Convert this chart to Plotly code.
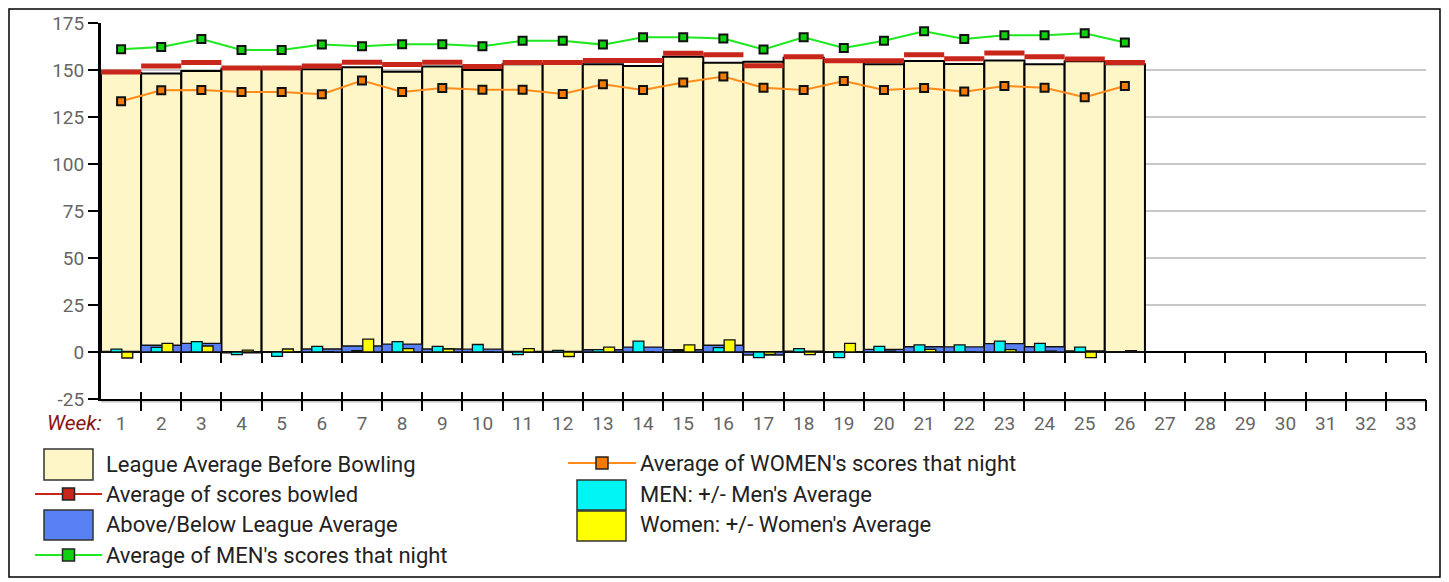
import plotly.graph_objects as go

# ---------------- data ----------------
weeks = list(range(1, 27))
all_weeks = list(range(1, 34))
week_labels = [str(w) for w in all_weeks]
y_ticks = [-25, 0, 25, 50, 75, 100, 125, 150, 175]
y_tick_labels = ["-25", "0", "25", "50", "75", "100", "125", "150", "175"]

league_avg = [148.5, 148.2, 149.5, 150.6, 150.8, 150.4, 151.4, 149.1, 151.8, 150.0,
              153.0, 153.2, 153.0, 152.1, 157.1, 153.9, 154.4, 156.5, 154.5, 153.0,
              154.8, 153.2, 155.1, 153.0, 154.6, 153.0]
avg_scores = [148.9, 152.1, 154.0, 151.0, 151.0, 152.1, 154.1, 152.9, 154.1, 151.9,
              154.0, 154.0, 155.0, 155.0, 158.9, 158.1, 152.2, 157.0, 154.9, 154.9,
              158.1, 156.0, 159.1, 157.0, 155.9, 154.0]
above_below = [0.3, 3.6, 4.6, -0.4, 0.2, 1.6, 3.2, 4.2, 1.6, 1.5,
               0.3, 0.3, 1.2, 2.6, 1.2, 3.6, -1.6, 0.5, 0.2, 1.4,
               2.8, 2.7, 4.5, 2.8, 0.6, 0.2]
men_avg = [161.0, 162.2, 166.5, 160.6, 160.6, 163.5, 162.6, 163.7, 163.7, 162.6,
           165.6, 165.6, 163.5, 167.4, 167.4, 166.7, 160.9, 167.4, 161.7, 165.6,
           170.6, 166.5, 168.5, 168.5, 169.5, 164.6]
women_avg = [133.4, 139.2, 139.4, 138.3, 138.3, 137.1, 144.4, 138.3, 140.4, 139.5,
             139.5, 137.2, 142.4, 139.4, 143.3, 146.5, 140.6, 139.4, 144.1, 139.4,
             140.4, 138.5, 141.5, 140.6, 135.5, 141.5]
men_diff = [1.5, 2.5, 5.5, -1.4, -2.3, 3.0, 0.7, 5.5, 3.0, 4.0,
            -1.4, 0.9, 1.3, 5.8, 0.8, 2.3, -3.0, 1.8, -3.0, 3.0,
            3.8, 3.8, 5.8, 4.6, 2.6, 0.0]
women_diff = [-3.2, 4.6, 3.2, 1.0, 1.6, 0.2, 6.9, 1.8, 1.6, 0.0,
              1.8, -2.4, 2.6, 0.0, 3.8, 6.5, -1.3, -1.4, 4.6, 0.5,
              1.4, 0.0, 1.3, 0.5, -3.0, 0.7]

series_names = ["League Average Before Bowling", "Average of scores bowled",
                "Above/Below League Average", "Average of MEN's scores that night",
                "Average of WOMEN's scores that night", "MEN: +/- Men's Average",
                "Women: +/- Women's Average"]

# ---------------- styles ----------------
C_LEAGUE = "#FFF6C8"
C_RED = "#C9261B"
C_BLUE = "#5A80F5"
C_GREEN = "#1EE81E"
C_GREEN_M = "#10D010"
C_ORANGE = "#FF8C1A"
C_ORANGE_M = "#F57A00"
C_CYAN = "#00F5F5"
C_YEL = "#FFFF00"
FONT = "Roboto"

PAGE_OFF = 8                      # default body margin of the html page
FW, FH = 1449 - PAGE_OFF, 582 - PAGE_OFF
# plot area in screenshot pixels
L, R, T, B = 101, 1426, 23, 399
n_cat = len(all_weeks)
cat_px = (R - L) / n_cat


def px(x):
    return (x - L) / (R - L)


def py(y):
    return (B - y) / (B - T)


fig = go.Figure()

fig.add_bar(x=weeks, y=league_avg, width=1, name=series_names[0], opacity=1,
            marker=dict(color=C_LEAGUE, line=dict(color="black", width=2)),
            showlegend=False, hoverinfo="skip")
fig.add_bar(x=weeks, y=above_below, width=1, name=series_names[2], opacity=1,
            marker=dict(color=C_BLUE, line=dict(color="#111", width=1.3)),
            showlegend=False, hoverinfo="skip")
fig.add_bar(x=weeks, y=men_diff, width=0.27, offset=-0.25, name=series_names[5], opacity=1,
            marker=dict(color=C_CYAN, line=dict(color="#111", width=1.3)),
            showlegend=False, hoverinfo="skip")
fig.add_bar(x=weeks, y=women_diff, width=0.27, offset=0.02, name=series_names[6], opacity=1,
            marker=dict(color=C_YEL, line=dict(color="#111", width=1.3)),
            showlegend=False, hoverinfo="skip")

# 'line-ew' marker length is 1.4 * size
fig.add_scatter(x=weeks, y=avg_scores, mode="markers", name=series_names[1],
                marker=dict(symbol="line-ew", size=cat_px / 1.4, color=C_RED,
                            line=dict(color=C_RED, width=5)),
                showlegend=False, hoverinfo="skip")
fig.add_scatter(x=weeks, y=women_avg, mode="lines+markers", name=series_names[4],
                line=dict(color=C_ORANGE, width=2),
                marker=dict(symbol="square", size=8, color=C_ORANGE_M,
                            line=dict(color="#111", width=2)),
                showlegend=False, hoverinfo="skip")
fig.add_scatter(x=weeks, y=men_avg, mode="lines+markers", name=series_names[3],
                line=dict(color=C_GREEN, width=2),
                marker=dict(symbol="square", size=8, color=C_GREEN_M,
                            line=dict(color="#111", width=2)),
                showlegend=False, hoverinfo="skip")

# helper traces so the overlay tick axes are drawn
for ax in ["x2", "x3", "x4"]:
    fig.add_scatter(x=[1], y=[0], xaxis=ax, yaxis="y", mode="markers",
                    marker=dict(opacity=0), showlegend=False, hoverinfo="skip")

boundaries = [w + 0.5 for w in all_weeks]
xrange_ = [0.5, n_cat + 0.5]
tick_font = dict(family=FONT, size=19, color="#666666")

fig.update_layout(
    width=FW, height=FH,
    margin=dict(l=L - PAGE_OFF, r=FW - (R - PAGE_OFF), t=T - PAGE_OFF,
                b=FH - (B - PAGE_OFF), autoexpand=False),
    paper_bgcolor="white", plot_bgcolor="white",
    barmode="overlay", hovermode=False, showlegend=False,
    font=dict(family=FONT, size=18, color="#222"),
    xaxis=dict(range=xrange_, tickmode="array", tickvals=all_weeks, ticktext=week_labels,
               ticks="outside", ticklen=6, tickcolor="rgba(0,0,0,0)",
               showline=True, linecolor="black", linewidth=2,
               showgrid=False, zeroline=False, tickfont=tick_font, fixedrange=True),
    xaxis2=dict(range=xrange_, overlaying="x", anchor="y", side="bottom",
                tickmode="array", tickvals=boundaries, ticks="outside", ticklen=11,
                tickwidth=2, tickcolor="black", showticklabels=False,
                showline=False, showgrid=False, zeroline=False),
    xaxis3=dict(range=xrange_, overlaying="x", anchor="y", side="bottom",
                tickmode="array", tickvals=boundaries, ticks="inside", ticklen=7,
                tickwidth=2, tickcolor="black", showticklabels=False,
                showline=False, showgrid=False, zeroline=False),
    xaxis4=dict(range=xrange_, overlaying="x", anchor="free", position=25 / 200, side="bottom",
                tickmode="array", tickvals=boundaries, ticks="outside", ticklen=10,
                tickwidth=2, tickcolor="black", showticklabels=False,
                showline=False, showgrid=False, zeroline=False),
    yaxis=dict(range=[y_ticks[0], y_ticks[-1]], tickmode="array", tickvals=y_ticks,
               ticktext=y_tick_labels,
               ticks="outside", ticklen=10, tickwidth=2, tickcolor="black",
               showline=True, linecolor="black", linewidth=3,
               showgrid=True, gridcolor="#c8c8c8", gridwidth=1.5,
               zeroline=True, zerolinecolor="black", zerolinewidth=2,
               tickfont=tick_font, fixedrange=True),
)

shapes = []
annotations = []

# outer border (kept inside the figure)
shapes.append(dict(type="rect", xref="paper", yref="paper",
                   x0=px(PAGE_OFF + 1), x1=px(1440), y0=py(577), y1=py(PAGE_OFF + 1),
                   line=dict(color="black", width=1.5), fillcolor="rgba(0,0,0,0)"))
# light shadow under the bottom axis line
shapes.append(dict(type="line", xref="paper", yref="paper", layer="below",
                   x0=0, x1=1, y0=py(401.5), y1=py(401.5),
                   line=dict(color="#c4c4c4", width=2)))

annotations.append(dict(xref="paper", yref="paper", x=px(104), y=py(423),
                        xanchor="right", yanchor="middle", showarrow=False,
                        text="<i>Week:</i>", font=dict(family=FONT, size=21, color="#8a1414")))

LEG_FONT = dict(family=FONT, size=22, color="#222")


def legend_box(x0, x1, y0, y1, color):
    shapes.append(dict(type="rect", xref="paper", yref="paper", layer="above",
                       x0=px(x0), x1=px(x1), y0=py(y1), y1=py(y0),
                       fillcolor=color, line=dict(color="#333", width=1.5)))


def legend_line(x0, x1, y, lcolor, mcolor):
    shapes.append(dict(type="line", xref="paper", yref="paper", layer="above",
                       x0=px(x0), x1=px(x1), y0=py(y), y1=py(y),
                       line=dict(color=lcolor, width=2)))
    cx = (x0 + x1) / 2
    shapes.append(dict(type="rect", xref="paper", yref="paper", layer="above",
                       x0=px(cx - 6), x1=px(cx + 6), y0=py(y + 6), y1=py(y - 6),
                       fillcolor=mcolor, line=dict(color="#222", width=1.5)))


def legend_text(x, y, text):
    annotations.append(dict(xref="paper", yref="paper", x=px(x), y=py(y),
                            xanchor="left", yanchor="middle", showarrow=False,
                            text=text, font=LEG_FONT))


# column 1
legend_box(44, 93, 449, 480, C_LEAGUE)
legend_text(104, 464, series_names[0])
legend_line(35, 102, 494, C_RED, C_RED)
legend_text(104, 494, series_names[1])
legend_box(44, 93, 510, 540, C_BLUE)
legend_text(104, 524, series_names[2])
legend_line(35, 102, 555, C_GREEN, C_GREEN_M)
legend_text(104, 555, series_names[3])
# column 2
legend_line(568, 636, 463, C_ORANGE, C_ORANGE_M)
legend_text(638, 463, series_names[4])
legend_box(577, 626, 480, 510, C_CYAN)
legend_text(638, 494, series_names[5])
legend_box(577, 626, 511, 541, C_YEL)
legend_text(638, 524, series_names[6])

fig.update_layout(shapes=shapes, annotations=annotations)

fig.write_html("out.html")
